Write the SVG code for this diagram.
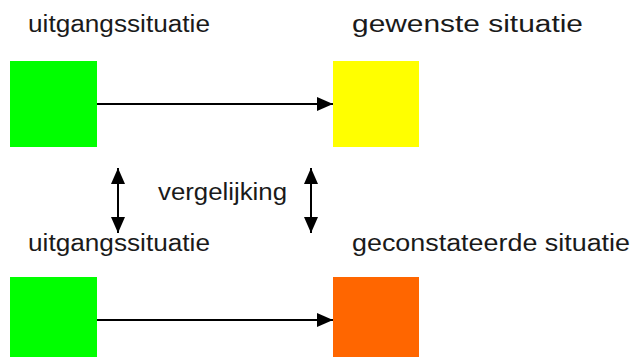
<svg xmlns="http://www.w3.org/2000/svg" width="631" height="357" viewBox="0 0 631 357">
<style>
text{font-family:"Liberation Sans",Arial,sans-serif;font-size:23px;fill:#1a1a1a}
.c line{stroke:#000;stroke-width:2}
</style>
<defs>
<marker id="ah" markerWidth="16" markerHeight="14" refX="16" refY="7" orient="auto" markerUnits="userSpaceOnUse">
<path d="M0,0 L16,7 L0,14 Z" fill="#000"/>
</marker>
<marker id="av" markerWidth="16" markerHeight="14" refX="16" refY="7" orient="auto-start-reverse" markerUnits="userSpaceOnUse">
<path d="M0,0 L16,7 L0,14 Z" fill="#000"/>
</marker>
</defs>
<rect width="631" height="357" fill="#fff"/>
<g id="n1"><rect x="10" y="61" width="87" height="86" fill="#00ff00"/><text x="28" y="32" textLength="182" lengthAdjust="spacingAndGlyphs">uitgangssituatie</text></g>
<g id="n2"><rect x="333" y="61" width="86" height="86" fill="#ffff00"/><text x="352" y="32" textLength="231" lengthAdjust="spacingAndGlyphs">gewenste situatie</text></g>
<g id="n3"><rect x="10" y="277" width="87" height="80" fill="#00ff00"/><text x="28" y="251" textLength="182" lengthAdjust="spacingAndGlyphs">uitgangssituatie</text></g>
<g id="n4"><rect x="333" y="277" width="86" height="80" fill="#ff6600"/><text x="352" y="251" textLength="278" lengthAdjust="spacingAndGlyphs">geconstateerde situatie</text></g>
<g id="lbl"><text x="158" y="200" textLength="129" lengthAdjust="spacingAndGlyphs">vergelijking</text></g>
<g class="c" id="connectors">
<line x1="97" y1="104" x2="333" y2="104" marker-end="url(#ah)"/>
<line x1="97" y1="320" x2="333" y2="320" marker-end="url(#ah)"/>
<line x1="118" y1="168" x2="118" y2="233" marker-start="url(#av)" marker-end="url(#av)"/>
<line x1="311" y1="168" x2="311" y2="233" marker-start="url(#av)" marker-end="url(#av)"/>
</g>
</svg>
